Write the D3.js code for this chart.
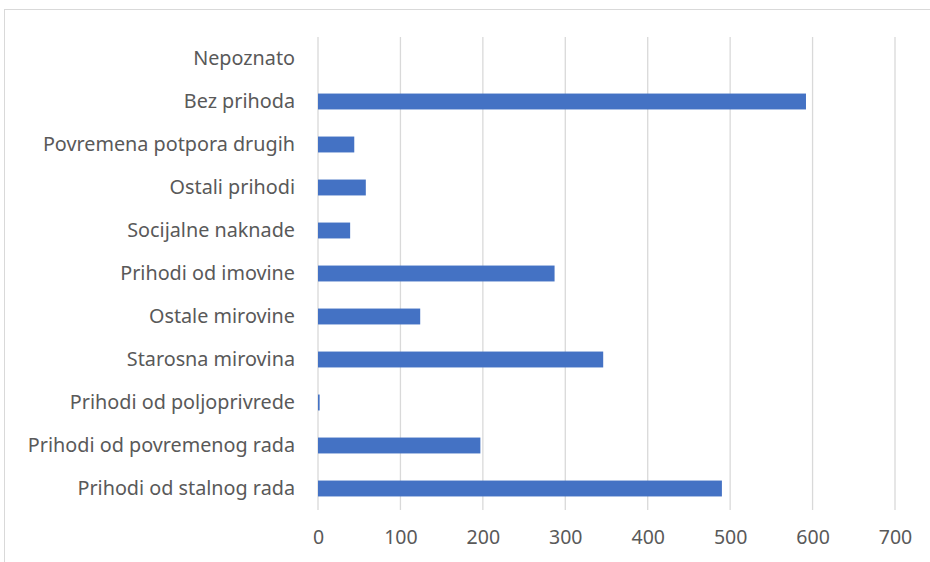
<html>
  <head>
    <script src="https://cdn.jsdelivr.net/npm/d3@7"></script>
    <style>
      body { margin: 0; background: #fff; }
      text { font-family: "Noto Sans", sans-serif; fill: #595959; }
    </style>
  </head>

  <body>
    <div id="chart"></div>
  </body>

  <script>
    // categories, top to bottom as drawn
    let categories = [
      'Nepoznato',
      'Bez prihoda',
      'Povremena potpora drugih',
      'Ostali prihodi',
      'Socijalne naknade',
      'Prihodi od imovine',
      'Ostale mirovine',
      'Starosna mirovina',
      'Prihodi od poljoprivrede',
      'Prihodi od povremenog rada',
      'Prihodi od stalnog rada'
    ]
    let values = [0, 592, 44, 58, 39, 287, 124, 346, 2, 197, 490]
    let ticks = [0, 100, 200, 300, 400, 500, 600, 700]

    function createBarChart () {
      let W = 930, H = 562
      let margin = {top: 37, right: 35, bottom: 52, left: 318}
      let width = W - margin.left - margin.right
      let height = H - margin.top - margin.bottom

      let svg = d3.select('#chart').append('svg')
        .attr('width', W)
        .attr('height', H)

      // chart frame
      svg.append('rect')
        .attr('x', 4.5).attr('y', 9.5)
        .attr('width', W + 10).attr('height', H + 10)
        .attr('fill', 'none')
        .attr('stroke', '#d9d9d9')

      let g = svg.append('g')
        .attr('transform', 'translate(' + margin.left + ',' + margin.top + ')')

      let x = d3.scaleLinear().domain([0, 700]).range([0, width])
      let y = d3.scaleBand().domain(categories).range([0, height]).paddingInner(0.63).paddingOuter(0.315)

      // gridlines
      g.append('g')
        .selectAll('line')
        .data(ticks)
        .enter().append('line')
        .attr('x1', d => x(d)).attr('x2', d => x(d))
        .attr('y1', 0).attr('y2', height)
        .attr('stroke', '#d9d9d9')
        .attr('stroke-width', 1.3)

      // bars
      g.append('g')
        .selectAll('rect')
        .data(categories)
        .enter().append('rect')
        .attr('x', x(0))
        .attr('y', d => y(d))
        .attr('width', (d, i) => x(values[i]) - x(0))
        .attr('height', y.bandwidth())
        .attr('fill', '#4472c4')

      // x axis labels
      let xAxis = g.append('g')
        .attr('transform', 'translate(0,' + height + ')')
        .call(d3.axisBottom(x).tickValues(ticks).tickSize(0).tickPadding(20))
      xAxis.select('.domain').remove()
      xAxis.selectAll('text')
        .style('font-family', '"Noto Sans", sans-serif')
        .style('font-size', '19.5px')
        .attr('fill', '#595959')

      // category labels
      let yAxis = g.append('g')
        .call(d3.axisLeft(y).tickSize(0).tickPadding(23))
      yAxis.select('.domain').remove()
      yAxis.selectAll('text')
        .style('font-family', '"Noto Sans", sans-serif')
        .style('font-size', '19.8px')
        .attr('fill', '#595959')
    }

    createBarChart()
  </script>
</html>
